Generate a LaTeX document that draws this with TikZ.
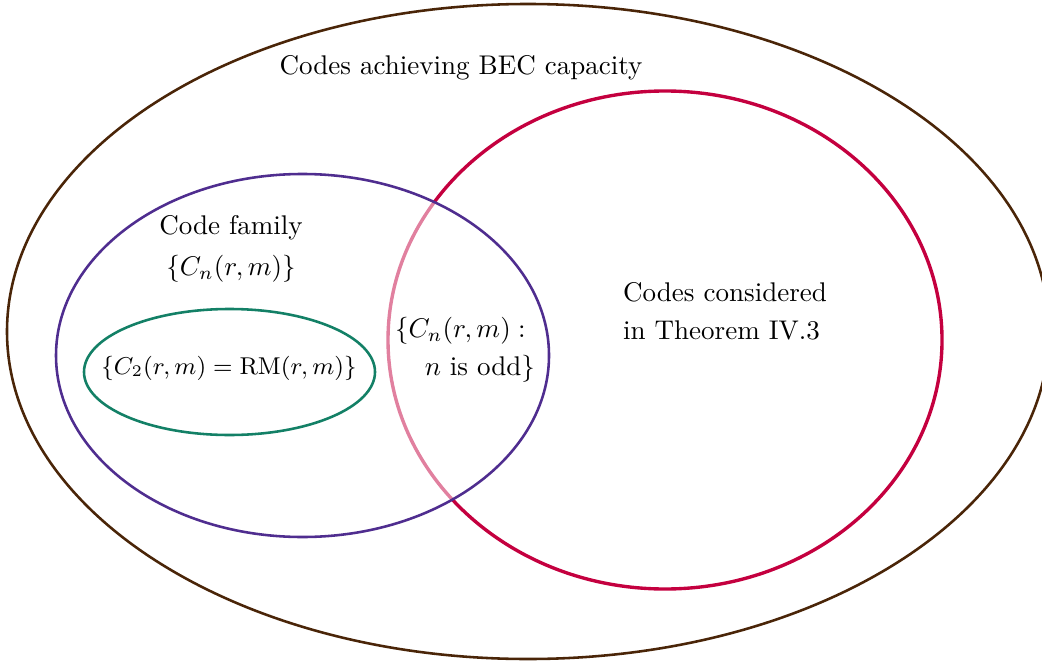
\documentclass[tikz,border=0pt]{standalone}
\usepackage{xcolor}
\definecolor{setbrown}{HTML}{4A2508}
\definecolor{setpurple}{HTML}{4F2D8F}
\definecolor{setgreen}{HTML}{138066}
\definecolor{setred}{HTML}{C4003F}
\tikzset{
  setline/.style={line width=0.95pt},
  lbl/.style={inner sep=0pt, font=\normalsize},
}
\begin{document}
\begin{tikzpicture}[x=0.37pt,y=-0.37pt]
\useasboundingbox (0,0) rectangle (1042,662);
% outer set
\draw[setline, setbrown] (528,331.5) ellipse [x radius=521, y radius=327.5];
% theorem set
\draw[line width=1.25pt, setred] (665,340) ellipse [x radius=277, y radius=249];
% code family
\fill[white, opacity=0.5] (302.5,355.5) ellipse [x radius=246.5, y radius=181.5];
\draw[setline, setpurple] (302.5,355.5) ellipse [x radius=246.5, y radius=181.5];
% RM codes
\draw[setline, setgreen] (229.5,372) ellipse [x radius=145.5, y radius=63];
% labels
\node[lbl] (bec) at (461,68) {Codes achieving BEC capacity};
\node[lbl, align=center] (fam) at (231,249) {Code family\\[3pt] $\{C_n(r,m)\}$};
\node[lbl, font=\small] (rm) at (229,368) {$\{C_2(r,m)=\mathrm{RM}(r,m)\}$};
\node[lbl, align=left] (odd) at (465,350) {$\{C_n(r,m):$\\[2pt] \hspace*{11pt}$n$ is odd$\}$};
\node[lbl, align=left] (thm) at (725,311) {Codes considered\\[2pt] in Theorem IV.3};
\end{tikzpicture}
\end{document}
